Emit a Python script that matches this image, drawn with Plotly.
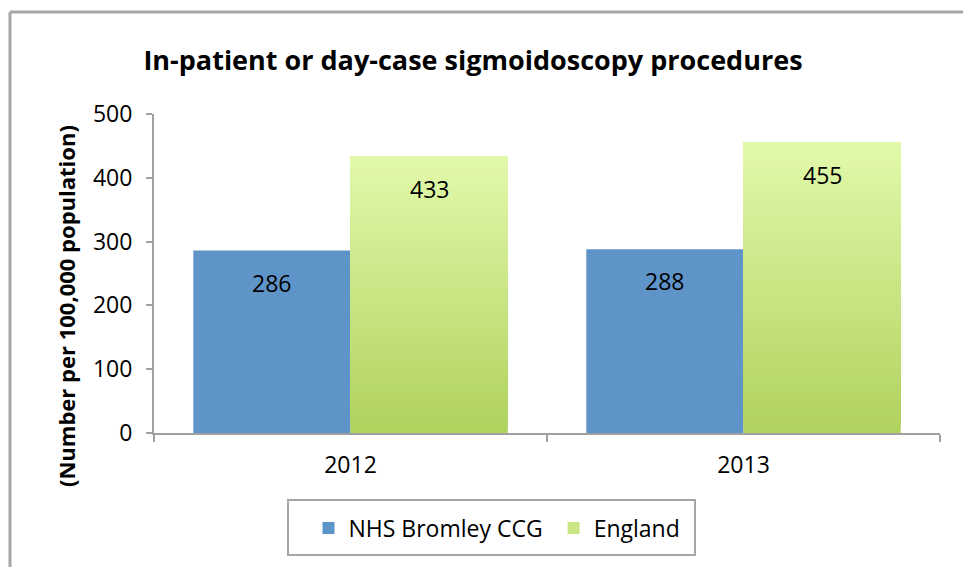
import plotly.graph_objects as go

years = ["2012", "2013"]
bromley = [286, 288]
england = [433, 455]
series_names = ["NHS Bromley CCG", "England"]
title_text = "In-patient or day-case sigmoidoscopy procedures"
y_title = "(Number per 100,000 population)"
y_ticks = [0, 100, 200, 300, 400, 500]

FONT = "Open Sans"
AXIS_GREY = "#a0a0a0"
BLUE = "#5f94c8"
GREEN_BOTTOM = (176, 210, 94)
GREEN_TOP = (225, 249, 170)
W, H = 963, 567
PL, PW, PT, PH = 154, 786, 114, 319  # plot area in pixels


def px(x):
    return (x - PL) / PW


def py(y):
    return (PT + PH - y) / PH


fig = go.Figure()

fig.add_trace(go.Bar(
    x=years, y=bromley, name=series_names[0] + "\u00a0",
    marker=dict(color=BLUE, line=dict(width=0)),
    width=0.4, offset=-0.4, hoverinfo="skip",
))

# England bars with vertical gradient (layered bars)
N = 60
for k in range(N):
    t = k / (N - 1)
    c = tuple(round(GREEN_BOTTOM[i] + (GREEN_TOP[i] - GREEN_BOTTOM[i]) * t) for i in range(3))
    col = "rgb(%d,%d,%d)" % c
    fig.add_trace(go.Bar(
        x=years,
        y=[v - v * k / N for v in england],
        base=[v * k / N for v in england],
        name=series_names[1],
        marker=dict(color=col, line=dict(width=0)),
        width=0.4, offset=0.0,
        showlegend=(k == N // 2),
        hoverinfo="skip",
    ))

annotations = []
for i, v in enumerate(bromley):
    annotations.append(dict(x=i - 0.2, y=v, xref="x", yref="y", text=str(v),
                            showarrow=False, yshift=-32,
                            font=dict(family=FONT, size=23, color="black")))
for i, v in enumerate(england):
    annotations.append(dict(x=i + 0.2, y=v, xref="x", yref="y", text=str(v),
                            showarrow=False, yshift=-32,
                            font=dict(family=FONT, size=23, color="black")))
annotations.append(dict(x=px(66), y=py(306), xref="paper", yref="paper", text="<b>" + y_title + "</b>",
                        textangle=-90, showarrow=False, xanchor="center", yanchor="middle",
                        font=dict(family=FONT, size=22, color="black")))

BX = px(10)
BY = py(12)
fig.update_layout(
    width=W, height=H, autosize=False,
    margin=dict(l=PL, r=W - PL - PW, t=PT, b=H - PT - PH, pad=0),
    paper_bgcolor="white", plot_bgcolor="white",
    barmode="overlay",
    font=dict(family=FONT, size=23, color="black"),
    title=dict(text="<b>" + title_text + "</b>", x=473 / W, xanchor="center",
               y=1 - 61 / H, yanchor="middle",
               font=dict(family=FONT, size=27, color="black")),
    xaxis=dict(type="category", range=[-0.5, 1.5], showline=True, linecolor=AXIS_GREY, linewidth=2,
               ticks="outside", tickson="boundaries", ticklen=7, tickwidth=2, tickcolor=AXIS_GREY,
               showgrid=False, zeroline=False, ticklabelstandoff=10,
               tickfont=dict(family=FONT, size=23, color="black")),
    yaxis=dict(range=[0, 500], tickvals=y_ticks, showline=True, linecolor=AXIS_GREY, linewidth=2,
               ticks="outside", ticklen=6, tickwidth=2, tickcolor=AXIS_GREY,
               showgrid=False, zeroline=False, ticklabelstandoff=9,
               tickfont=dict(family=FONT, size=23, color="black")),
    legend=dict(orientation="h", x=px(497), xanchor="center", y=py(528), yanchor="middle",
                bgcolor="rgba(0,0,0,0)", borderwidth=0,
                font=dict(family=FONT, size=23, color="black")),
    annotations=annotations,
    shapes=[
        dict(type="rect", xref="paper", yref="paper",
             x0=px(288), x1=px(695), y0=py(555), y1=py(500),
             line=dict(color="#a6a6a6", width=2), fillcolor="rgba(0,0,0,0)", layer="below"),
        dict(type="line", xref="paper", yref="paper", x0=BX, x1=BX, y0=-1.0, y1=BY,
             line=dict(color="#a6a6a6", width=3), layer="below"),
        dict(type="line", xref="paper", yref="paper", x0=BX, x1=1.2, y0=BY, y1=BY,
             line=dict(color="#a6a6a6", width=3), layer="below"),
    ],
)

fig.write_html(
    "out.html",
    config={"displayModeBar": False},
    post_script="document.body.style.margin='0';document.body.style.overflow='hidden';",
)
